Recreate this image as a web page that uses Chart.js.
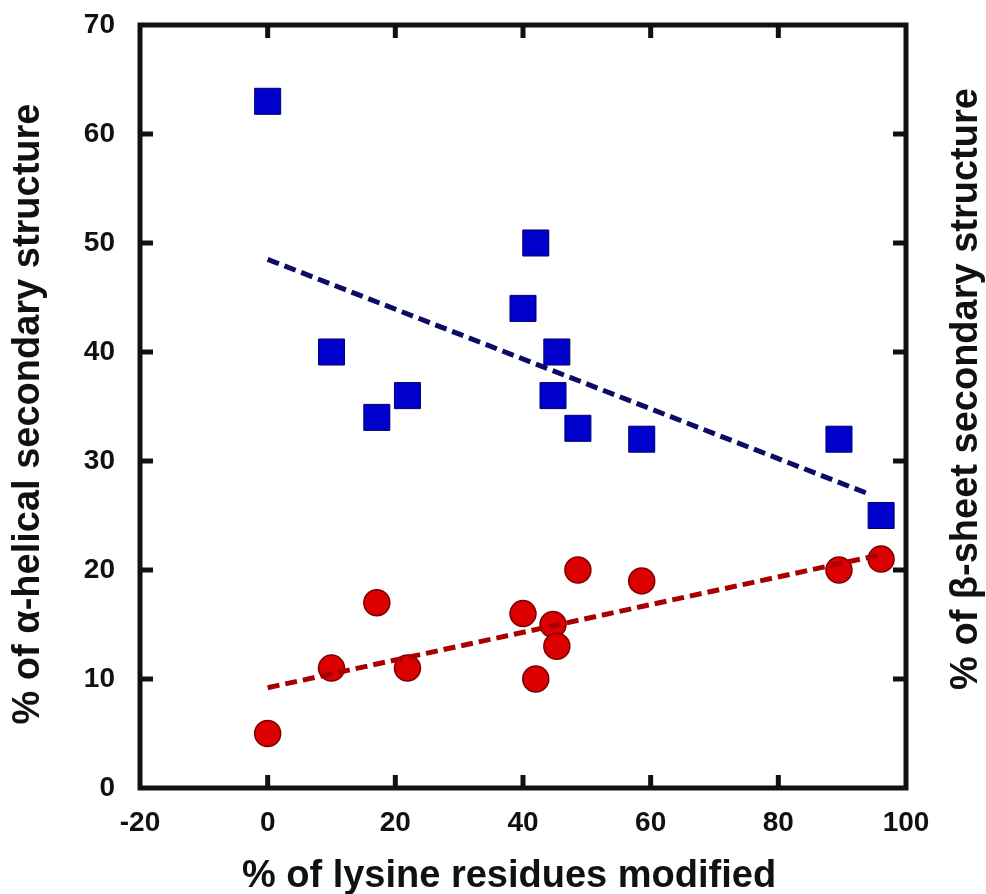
<!DOCTYPE html>
<html lang="en">
<head>
    <meta charset="UTF-8">
    <title>Secondary structure vs lysine modification</title>
    <script src="https://cdn.jsdelivr.net/npm/chart.js@4.4.0/dist/chart.umd.min.js"></script>
    <style>
        html, body {
            margin: 0;
            padding: 0;
            background-color: #FFFFFF;
        }
        #plotChart {
            display: block;
        }
    </style>
</head>
<body>
    <canvas id="plotChart" width="986" height="894"></canvas>

    <script>
        // values
        const lysineModified = [0, 10, 17.1, 21.9, 40, 42, 44.7, 45.3, 48.6, 58.6, 89.5, 96.1];
        const alphaHelical   = [63, 40, 34, 36, 44, 50, 36, 40, 33, 32, 32, 25];
        const betaSheet      = [5, 11, 17, 11, 16, 10, 15, 13, 20, 19, 20, 21];

        // dashed trend lines (end points)
        const alphaFitX = [0, 94.5];
        const alphaFitY = [48.5, 26.9];
        const betaFitX = [0, 96];
        const betaFitY = [9.2, 21.4];

        const xTickValues = [-20, 0, 20, 40, 60, 80, 100];
        const yTickValues = [0, 10, 20, 30, 40, 50, 60, 70];

        const xTitle = '% of lysine residues modified';
        const yTitle = '% of \u03B1-helical secondary structure';
        const y2Title = '% of \u03B2-sheet secondary structure';

        const fontFamily = '"Liberation Sans", Arial, sans-serif';
        const ink = '#111111';

        const toPoints = (xs, ys) => xs.map((x, i) => ({ x: x, y: ys[i] }));

        // frame, inward ticks and the axis titles
        const framePlugin = {
            id: 'frame',
            afterDraw(chart) {
                const { ctx, chartArea: a, scales } = chart;
                const tick = 13;
                ctx.save();
                ctx.strokeStyle = ink;
                ctx.lineWidth = 5;
                ctx.lineCap = 'butt';

                ctx.beginPath();
                xTickValues.slice(1, -1).forEach(v => {
                    const px = scales.x.getPixelForValue(v);
                    ctx.moveTo(px, a.bottom);
                    ctx.lineTo(px, a.bottom - tick);
                    ctx.moveTo(px, a.top);
                    ctx.lineTo(px, a.top + tick);
                });
                yTickValues.slice(1, -1).forEach(v => {
                    const py = scales.y.getPixelForValue(v);
                    ctx.moveTo(a.left, py);
                    ctx.lineTo(a.left + tick, py);
                    ctx.moveTo(a.right, py);
                    ctx.lineTo(a.right - tick, py);
                });
                ctx.stroke();

                ctx.lineJoin = 'miter';
                ctx.strokeRect(a.left, a.top, a.right - a.left, a.bottom - a.top);

                ctx.fillStyle = ink;
                ctx.font = 'bold 38px ' + fontFamily;
                ctx.textAlign = 'center';
                ctx.textBaseline = 'alphabetic';
                ctx.fillText(xTitle, 509, 887);

                ctx.save();
                ctx.translate(39, 414);
                ctx.rotate(-Math.PI / 2);
                ctx.fillText(yTitle, 0, 0);
                ctx.restore();

                ctx.save();
                ctx.translate(977, 389);
                ctx.rotate(-Math.PI / 2);
                ctx.fillText(y2Title, 0, 0);
                ctx.restore();

                ctx.restore();
            }
        };

        const data = {
            datasets: [
                {
                    type: 'line',
                    label: 'alpha fit',
                    data: toPoints(alphaFitX, alphaFitY),
                    borderColor: '#0b0b66',
                    borderWidth: 5,
                    borderDash: [12, 6],
                    pointRadius: 0,
                    fill: false
                },
                {
                    type: 'line',
                    label: 'beta fit',
                    data: toPoints(betaFitX, betaFitY),
                    borderColor: '#a80000',
                    borderWidth: 5,
                    borderDash: [12, 6],
                    pointRadius: 0,
                    fill: false
                },
                {
                    type: 'scatter',
                    label: 'alpha-helical',
                    data: toPoints(lysineModified, alphaHelical),
                    pointStyle: 'rect',
                    pointRadius: 18.4,
                    backgroundColor: '#0000cc',
                    borderColor: '#000070',
                    borderWidth: 1
                },
                {
                    type: 'scatter',
                    label: 'beta-sheet',
                    data: toPoints(lysineModified, betaSheet),
                    pointStyle: 'circle',
                    pointRadius: 13,
                    backgroundColor: '#dd0000',
                    borderColor: '#7a0000',
                    borderWidth: 1.5
                }
            ]
        };

        const tickFont = { family: fontFamily, size: 28, weight: 'bold' };

        const config = {
            type: 'scatter',
            data: data,
            options: {
                responsive: false,
                animation: false,
                layout: { padding: { top: 25, right: 80, left: 0, bottom: 0 } },
                scales: {
                    x: {
                        type: 'linear',
                        min: -20,
                        max: 100,
                        afterBuildTicks: s => { s.ticks = xTickValues.map(v => ({ value: v })); },
                        afterFit: s => { s.height = 106; s.paddingLeft = 0; s.paddingRight = 0; },
                        ticks: { font: tickFont, color: ink, padding: 18, maxRotation: 0, autoSkip: false },
                        grid: { display: false, drawTicks: false },
                        border: { display: false }
                    },
                    y: {
                        type: 'linear',
                        min: 0,
                        max: 70,
                        afterBuildTicks: s => { s.ticks = yTickValues.map(v => ({ value: v })); },
                        afterFit: s => { s.width = 140; s.paddingTop = 0; s.paddingBottom = 0; },
                        ticks: { font: tickFont, color: ink, padding: 25 },
                        grid: { display: false, drawTicks: false },
                        border: { display: false }
                    }
                },
                plugins: {
                    legend: { display: false },
                    tooltip: { enabled: false }
                }
            },
            plugins: [framePlugin]
        };

        const chart = new Chart(document.getElementById('plotChart').getContext('2d'), config);
    </script>
</body>
</html>
